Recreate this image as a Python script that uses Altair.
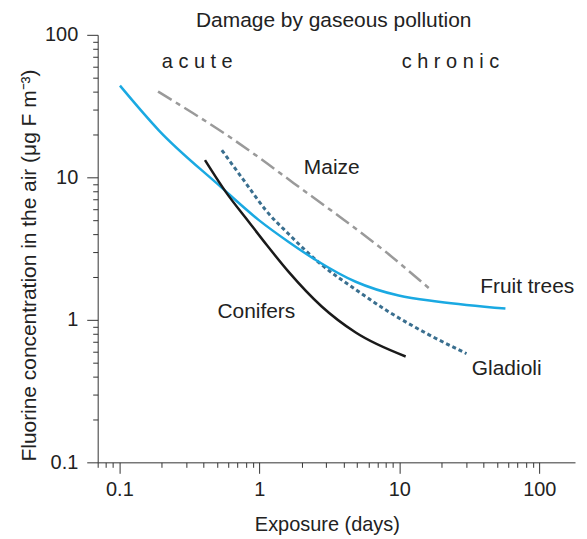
import altair as alt
import pandas as pd

# ---- data (exposure in days, concentration in ug F m-3) ----
fruit_x = [0.101, 0.192, 0.514, 0.992, 1.62, 2.53, 4.88, 9.89, 19.1, 57.3]
fruit_y = [44.0, 21.3, 8.81, 5.01, 3.52, 2.63, 1.85, 1.48, 1.34, 1.20]

maize_x = [0.189, 0.330, 0.577, 0.992, 1.76, 3.69, 7.99, 16.7]
maize_y = [40.0, 28.5, 20.0, 13.8, 9.10, 5.35, 3.00, 1.63]

glad_x = [0.540, 0.801, 1.11, 1.62, 2.79, 4.88, 8.39, 16.2, 30.2]
glad_y = [15.5, 9.10, 5.89, 4.00, 2.43, 1.63, 1.14, 0.788, 0.580]

conif_x = [0.409, 0.577, 0.842, 1.13, 1.62, 2.79, 4.88, 11.1]
conif_y = [13.2, 7.87, 4.86, 3.35, 2.17, 1.24, 0.814, 0.553]

label_text = ["Maize", "Fruit trees", "Gladioli", "Conifers"]
label_x = [3.29, 82.0, 58.5, 0.952]
label_y = [11.6, 1.71, 0.454, 1.14]

phase_text = ["a c u t e", "c h r o n i c"]
phase_x = [0.360, 23.2]
phase_y = [64.0, 64.0]

title_text = ["Damage by gaseous pollution"]
title_x = [3.40]
title_y = [125.3]

x_ticks = [0.07, 0.08, 0.09] + [m * 10.0 ** e for e in (-1, 0, 1) for m in range(1, 10)] + [100]
y_ticks = [m * 10.0 ** e for e in (-1, 0, 1) for m in range(1, 10)] + [100]
x_ticks = [float(f"{v:.6g}") for v in x_ticks]
y_ticks = [float(f"{v:.6g}") for v in y_ticks]

FONT = "Liberation Sans"
TXT = "#222222"
MAJOR = "abs(log(datum.value)/LN10 - round(log(datum.value)/LN10)) < 1e-6"

xscale = alt.Scale(type="log", domain=[0.07, 180], nice=False)
yscale = alt.Scale(type="log", domain=[0.1, 100], nice=False)

xaxis = alt.Axis(
    values=x_ticks, title="Exposure (days)", grid=False,
    labelExpr=f"{MAJOR} ? format(datum.value, '~g') : ''",
    tickSize={"condition": {"test": MAJOR, "value": 11}, "value": 5},
    labelPadding=6, labelOverlap=False, labelFlush=False,
    labelFontSize=20, titleFontSize=20, titleFontWeight="normal",
    titleX=230, titleY=62, titleBaseline="middle",
    domainColor="#333333", tickColor="#333333", labelColor=TXT, titleColor=TXT,
)
yaxis = alt.Axis(
    values=y_ticks, title="Fluorine concentration in the air (μg F m⁻³)", grid=False,
    labelExpr=f"{MAJOR} ? format(datum.value, '~g') : ''",
    tickSize={"condition": {"test": MAJOR, "value": 11}, "value": 5},
    labelPadding=9, labelOverlap=False, labelFlush=False,
    labelFontSize=20, titleFontSize=21, titleFontWeight="normal",
    titleX=-68, titleY=231, titleAngle=270, titleBaseline="middle", titleAlign="center",
    domainColor="#333333", tickColor="#333333", labelColor=TXT, titleColor=TXT,
)


def line(xs, ys, color, width, dash=None):
    df = pd.DataFrame({"x": xs, "y": ys})
    kw = dict(color=color, strokeWidth=width, interpolate="monotone")
    if dash:
        kw["strokeDash"] = dash
    return alt.Chart(df).mark_line(**kw).encode(
        x=alt.X("x:Q", scale=xscale, axis=xaxis),
        y=alt.Y("y:Q", scale=yscale, axis=yaxis),
    )


def texts(txt, xs, ys, size):
    df = pd.DataFrame({"text": txt, "x": xs, "y": ys})
    return alt.Chart(df).mark_text(
        fontSize=size, font=FONT, color=TXT, align="center", baseline="middle"
    ).encode(
        x=alt.X("x:Q", scale=xscale, axis=xaxis),
        y=alt.Y("y:Q", scale=yscale, axis=yaxis),
        text="text:N",
    )


maize = line(maize_x, maize_y, "#9a9a9a", 2.5, [16, 5, 5, 5])
glad = line(glad_x, glad_y, "#3a6f8f", 3, [4, 3])
fruit = line(fruit_x, fruit_y, "#1aa9e2", 2.5)
conif = line(conif_x, conif_y, "#1a1a1a", 2.5)

chart = alt.layer(
    maize, glad, fruit, conif,
    texts(label_text, label_x, label_y, 21),
    texts(phase_text, phase_x, phase_y, 20),
    texts(title_text, title_x, title_y, 21),
).properties(
    width=479, height=429,
    padding={"left": 90, "top": 26, "right": 4, "bottom": 72},
    autosize="none",
).configure(font=FONT).configure_view(stroke=None)

chart.save("out.html", embed_options={"renderer": "svg", "actions": False})
